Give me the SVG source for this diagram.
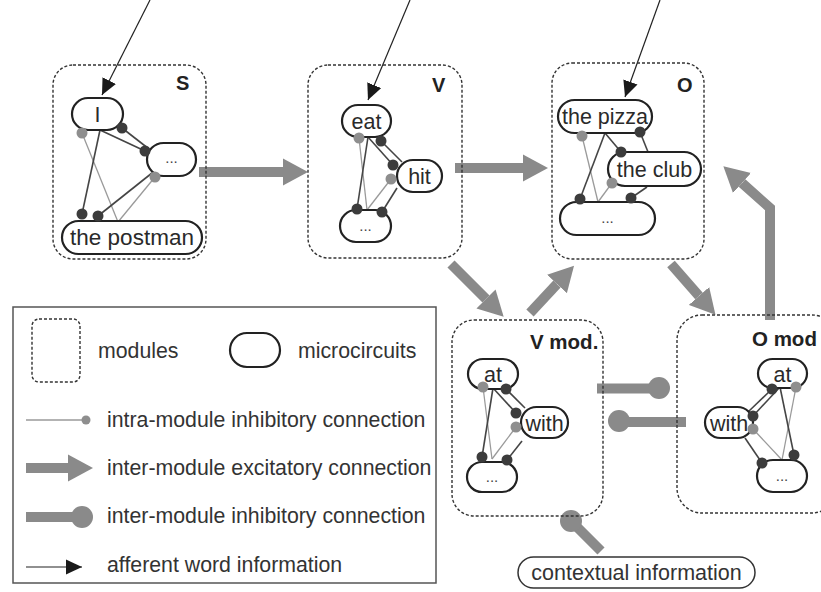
<svg xmlns="http://www.w3.org/2000/svg" width="821" height="592" viewBox="0 0 821 592">
<style>
  text { font-family: "Liberation Sans", Arial, sans-serif; fill: #2a2a2a; }
  .mod { fill: none; stroke: #333; stroke-width: 1.4; stroke-dasharray: 3 2; }
  .mc { fill: #fff; stroke: #222; stroke-width: 2.2; }
  .mct { font-size: 21.5px; text-anchor: middle; }
  .dots { font-size: 15px; text-anchor: middle; fill: #444; }
  .lbl { font-size: 20px; font-weight: bold; fill: #222; }
  .lblm { font-size: 20.5px; font-weight: bold; fill: #222; }
  .dk { stroke: #454545; stroke-width: 1.6; }
  .lt { stroke: #9a9a9a; stroke-width: 1.3; }
  .dkd { fill: #3c3c3c; }
  .ltd { fill: #8e8e8e; }
  .exc { stroke: #8a8a8a; stroke-width: 10; fill: none; marker-end: url(#excHead); }
  .inh { stroke: #8a8a8a; stroke-width: 10; fill: none; }
  .knob { fill: #8a8a8a; }
  .aff { stroke: #222; stroke-width: 1.2; marker-end: url(#affHead); }
  .leg { font-size: 21.3px; fill: #333; }
</style>
<defs>
  <marker id="excHead" markerUnits="userSpaceOnUse" viewBox="0 -14 26 28" refX="0" refY="0" markerWidth="26" markerHeight="28" orient="auto">
    <path d="M0,-13.5 L25,0 L0,13.5 Z" fill="#8a8a8a"/>
  </marker>
  <marker id="affHead" markerUnits="userSpaceOnUse" viewBox="0 -8 17 16" refX="16" refY="0" markerWidth="17" markerHeight="16" orient="auto">
    <path d="M0,-7.5 L16,0 L0,7.5 Z" fill="#1a1a1a"/>
  </marker>
</defs>

<!-- connectors between modules and afferent input -->
<g id="connectors">
  <line class="aff" x1="150" y1="0" x2="102" y2="95"/>
  <line class="aff" x1="410" y1="0" x2="368" y2="100"/>
  <line class="aff" x1="660" y1="0" x2="625" y2="97"/>

  <line class="exc" x1="199" y1="172" x2="283" y2="172"/>
  <line class="exc" x1="455" y1="168" x2="523" y2="168"/>
  <line class="exc" x1="451" y1="264" x2="486" y2="299"/>
  <line class="exc" x1="530" y1="313" x2="557" y2="284"/>
  <line class="exc" x1="671" y1="264" x2="699" y2="296"/>
  <polyline class="exc" points="770,320 770,208 742,183" stroke-linejoin="miter"/>

  <line class="inh" x1="597" y1="388.5" x2="655" y2="388.5"/>
  <circle class="knob" cx="659" cy="388" r="11"/>
  <line class="inh" x1="686" y1="422" x2="622" y2="422"/>
  <circle class="knob" cx="619" cy="421" r="11"/>
  <line class="inh" x1="601" y1="551" x2="573" y2="523"/>
  <circle class="knob" cx="571" cy="521" r="11"/>
</g>

<!-- module S -->
<g id="module-S">
  <rect class="mod" x="53" y="65" width="153" height="194" rx="20"/>
  <text class="lbl" x="176" y="90">S</text>
  <line class="lt" x1="82" y1="133" x2="118" y2="222"/>
  <line class="lt" x1="155" y1="177" x2="118" y2="222"/>
  <line class="dk" x1="100" y1="130" x2="82" y2="214"/>
  <line class="dk" x1="152" y1="173" x2="98" y2="216"/>
  <line class="dk" x1="100" y1="130" x2="145" y2="151"/>
  <line class="dk" x1="149" y1="149" x2="122" y2="128"/>
  <g id="S-I"><rect class="mc" x="72" y="98" width="51" height="32" rx="16"/><text class="mct" x="97.5" y="122">I</text></g>
  <g id="S-more"><rect class="mc" x="147" y="143" width="49" height="33" rx="16.5"/><text class="dots" x="171.5" y="163">...</text></g>
  <g id="S-postman"><rect class="mc" x="62" y="221" width="140" height="33" rx="16.5"/><text class="mct" x="132" y="245" style="font-size:22.5px">the postman</text></g>
  <circle class="ltd" cx="82" cy="133" r="5.5"/>
  <circle class="ltd" cx="155" cy="177" r="5.5"/>
  <circle class="dkd" cx="82" cy="214" r="5.5"/>
  <circle class="dkd" cx="98" cy="216" r="5.5"/>
  <circle class="dkd" cx="145" cy="151" r="5.5"/>
  <circle class="dkd" cx="122" cy="128" r="5.5"/>
</g>

<!-- module V -->
<g id="module-V">
  <rect class="mod" x="308" y="65" width="154" height="193" rx="20"/>
  <text class="lbl" x="432" y="92">V</text>
  <line class="lt" x1="359" y1="138" x2="367" y2="210"/>
  <line class="dk" x1="368" y1="137" x2="357" y2="209"/>
  <line class="dk" x1="368" y1="137" x2="393" y2="165"/>
  <line class="dk" x1="402" y1="162" x2="381" y2="141"/>
  <line class="lt" x1="367" y1="210" x2="391" y2="179"/>
  <line class="dk" x1="397" y1="188" x2="382" y2="212"/>
  <g id="V-eat"><rect class="mc" x="342" y="105" width="49" height="32" rx="16"/><text class="mct" x="366.5" y="128.5">eat</text></g>
  <g id="V-hit"><rect class="mc" x="397" y="160" width="45" height="32" rx="16"/><text class="mct" x="419.5" y="183.5">hit</text></g>
  <g id="V-more"><rect class="mc" x="340" y="210" width="51" height="32" rx="16"/><text class="dots" x="365.5" y="231">...</text></g>
  <circle class="ltd" cx="359" cy="138" r="5.5"/>
  <circle class="dkd" cx="381" cy="141" r="5.5"/>
  <circle class="dkd" cx="393" cy="165" r="5.5"/>
  <circle class="ltd" cx="391" cy="179" r="5.5"/>
  <circle class="dkd" cx="357" cy="209" r="5.5"/>
  <circle class="dkd" cx="382" cy="212" r="5.5"/>
</g>

<!-- module O -->
<g id="module-O">
  <rect class="mod" x="552" y="63" width="152" height="196" rx="20"/>
  <text class="lbl" x="677" y="92">O</text>
  <line class="lt" x1="582" y1="136" x2="598" y2="202"/>
  <line class="dk" x1="605" y1="133" x2="580" y2="199"/>
  <line class="dk" x1="605" y1="133" x2="621" y2="152"/>
  <line class="dk" x1="648" y1="152" x2="640" y2="132"/>
  <line class="lt" x1="598" y1="202" x2="612" y2="183"/>
  <line class="dk" x1="647" y1="187" x2="631" y2="198"/>
  <g id="O-pizza"><rect class="mc" x="558" y="100" width="94" height="33" rx="16.5"/><text class="mct" x="605" y="124">the pizza</text></g>
  <g id="O-club"><rect class="mc" x="608" y="152" width="93" height="34" rx="17"/><text class="mct" x="654.5" y="176.5">the club</text></g>
  <g id="O-more"><rect class="mc" x="560" y="202" width="95" height="33" rx="16.5"/><text class="dots" x="607.5" y="223">...</text></g>
  <circle class="ltd" cx="582" cy="136" r="5.5"/>
  <circle class="dkd" cx="640" cy="132" r="5.5"/>
  <circle class="dkd" cx="621" cy="152" r="5.5"/>
  <circle class="ltd" cx="612" cy="183" r="5.5"/>
  <circle class="dkd" cx="580" cy="199" r="5.5"/>
  <circle class="dkd" cx="631" cy="198" r="5.5"/>
</g>

<!-- module V mod. -->
<g id="module-Vmod">
  <rect class="mod" x="452" y="320" width="151" height="196" rx="22"/>
  <text class="lblm" x="530" y="349">V mod.</text>
  <line class="lt" x1="483" y1="387" x2="492" y2="459"/>
  <line class="dk" x1="493" y1="388" x2="482" y2="457"/>
  <line class="dk" x1="493" y1="388" x2="516" y2="413"/>
  <line class="dk" x1="525" y1="408" x2="506" y2="389"/>
  <line class="lt" x1="492" y1="459" x2="516" y2="427"/>
  <line class="dk" x1="522" y1="441" x2="507" y2="460"/>
  <g id="Vmod-at"><rect class="mc" x="468" y="359" width="50" height="30" rx="15"/><text class="mct" x="493" y="381.5">at</text></g>
  <g id="Vmod-with"><rect class="mc" x="521" y="407" width="47" height="31" rx="15.5"/><text class="mct" x="544.5" y="430.5">with</text></g>
  <g id="Vmod-more"><rect class="mc" x="467" y="462" width="50" height="30" rx="15"/><text class="dots" x="492" y="482">...</text></g>
  <circle class="ltd" cx="483" cy="387" r="5.5"/>
  <circle class="dkd" cx="506" cy="389" r="5.5"/>
  <circle class="dkd" cx="516" cy="413" r="5.5"/>
  <circle class="ltd" cx="516" cy="427" r="5.5"/>
  <circle class="dkd" cx="482" cy="457" r="5.5"/>
  <circle class="dkd" cx="507" cy="460" r="5.5"/>
</g>

<!-- module O mod -->
<g id="module-Omod">
  <rect class="mod" x="677" y="315" width="160" height="198" rx="25"/>
  <text class="lblm" x="752" y="346">O mod</text>
  <line class="lt" x1="796" y1="387" x2="782" y2="460"/>
  <line class="dk" x1="780" y1="387" x2="794" y2="455"/>
  <line class="dk" x1="780" y1="387" x2="753" y2="416"/>
  <line class="dk" x1="748" y1="412" x2="772" y2="389"/>
  <line class="lt" x1="782" y1="460" x2="753" y2="429"/>
  <line class="dk" x1="745" y1="438" x2="762" y2="463"/>
  <g id="Omod-at"><rect class="mc" x="758" y="359" width="49" height="29" rx="14.5"/><text class="mct" x="782.5" y="381.5">at</text></g>
  <g id="Omod-with"><rect class="mc" x="705" y="407" width="48" height="31" rx="15.5"/><text class="mct" x="729" y="430.5">with</text></g>
  <g id="Omod-more"><rect class="mc" x="757" y="460" width="50" height="32" rx="16"/><text class="dots" x="782" y="481">...</text></g>
  <circle class="dkd" cx="772" cy="389" r="5.5"/>
  <circle class="ltd" cx="796" cy="387" r="5.5"/>
  <circle class="dkd" cx="753" cy="416" r="5.5"/>
  <circle class="ltd" cx="753" cy="429" r="5.5"/>
  <circle class="dkd" cx="762" cy="463" r="5.5"/>
  <circle class="dkd" cx="794" cy="455" r="5.5"/>
</g>

<!-- context input -->
<g id="context">
  <rect x="518" y="557" width="237" height="31" rx="15.5" fill="#fff" stroke="#333" stroke-width="1.5"/>
  <text class="mct" x="636.5" y="580" style="fill:#333">contextual information</text>
</g>

<!-- legend -->
<g id="legend">
  <rect x="13" y="307" width="423" height="276" fill="#fff" stroke="#555" stroke-width="1.5"/>
  <rect class="mod" x="32" y="319" width="48" height="63" rx="7"/>
  <text class="leg" x="98" y="358">modules</text>
  <rect x="230" y="333" width="50" height="34" rx="17" fill="none" stroke="#222" stroke-width="2.2"/>
  <text class="leg" x="298" y="358">microcircuits</text>
  <line x1="26" y1="420" x2="84" y2="420" stroke="#9a9a9a" stroke-width="1.3"/>
  <circle class="ltd" cx="86" cy="420" r="4.5"/>
  <text class="leg" x="107" y="427">intra-module inhibitory connection</text>
  <line class="exc" x1="26" y1="468" x2="68" y2="468"/>
  <text class="leg" x="107" y="475">inter-module excitatory connection</text>
  <line class="inh" x1="26" y1="517" x2="80" y2="517"/>
  <circle class="knob" cx="82" cy="517" r="11"/>
  <text class="leg" x="107" y="523">inter-module inhibitory connection</text>
  <line class="aff" x1="26" y1="567" x2="82" y2="567"/>
  <text class="leg" x="107" y="572">afferent word information</text>
</g>
</svg>
